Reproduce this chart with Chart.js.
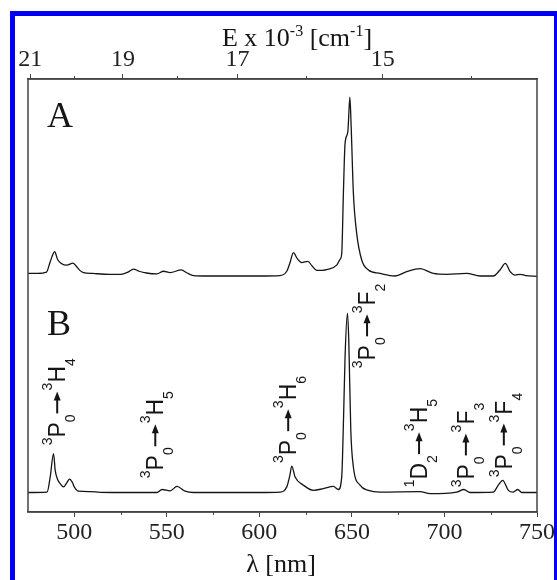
<!DOCTYPE html>
<html>
<head>
<meta charset="utf-8">
<script src="https://cdn.jsdelivr.net/npm/chart.js"></script>
<style>
  html, body { margin: 0; padding: 0; background: #fff; }
  canvas { display: block; }
</style>
</head>
<body>
<canvas id="spectra" width="557" height="580"></canvas>
<script>
// Emission spectra A and B (B drawn below A), wavelength in nm, intensity in arbitrary units
const lambdaA = [475, 480, 485, 487, 489.4, 491, 493, 496, 499.3, 501, 503, 505, 510, 519, 525, 529, 532, 535, 539,
  544.7, 548.2, 551.8, 557.8, 561, 564.4, 571.6, 580, 590, 600, 611, 614.8, 616.5, 618.4, 620.5, 622.9, 626.2, 628.5,
  631, 636.4, 641.8, 643.5, 644.5, 645.4, 646.3, 647.8, 648.9, 649.6, 650.8, 652.6, 655.3, 658.9, 665.2, 673.3, 679.6,
  686.8, 694, 701.2, 712, 719.2, 726.4, 730, 732.9, 735.5, 738.2, 740.9, 744, 750];
const intensityA = [55.1, 55.1, 55.4, 57.8, 60.1, 58.3, 57.4, 57.0, 57.5, 56.8, 55.8, 55.3, 55.1, 54.9, 54.9, 55.4, 56.1, 55.6, 55.2,
  55.0, 55.6, 55.3, 55.9, 55.2, 54.6, 54.5, 54.5, 54.5, 54.5, 54.6, 55.6, 57.5, 59.9, 58.5, 57.6, 57.9, 56.8,
  55.8, 56.0, 57.0, 58.3, 59.7, 73.6, 85.1, 87.8, 95.8, 89.0, 73.6, 64.3, 58.2, 55.9, 55.1, 54.5, 55.5,
  56.2, 55.1, 54.9, 55.1, 54.5, 54.5, 55.9, 57.4, 55.5, 54.7, 54.9, 54.6, 54.4];

const lambdaB = [475, 485.3, 487, 488.8, 489.7, 491, 492.5, 494.2, 496, 497.5, 499, 500, 502.3, 508.6, 514, 530, 544.7,
  547.4, 551.8, 555.5, 559.9, 564.4, 580, 600, 611.2, 614.8, 616.5, 617.5, 619.3, 623.8, 629.2, 634.6, 640, 642.7,
  644.5, 645.5, 646.3, 647.6, 648.3, 649.4, 650.8, 654.4, 658.9, 665.2, 686.8, 692.2, 706.6, 710.5, 713.8, 726.4,
  729.1, 731.5, 734.5, 737.2, 739.6, 741.8, 750];
const intensityB = [4.5, 4.6, 8.1, 13.5, 9.6, 7.5, 6.5, 5.8, 6.8, 7.6, 6.8, 5.8, 4.8, 4.7, 4.55, 4.5, 4.5,
  5.2, 4.9, 5.9, 4.8, 4.5, 4.5, 4.5, 4.6, 5.8, 8.5, 10.6, 8.1, 6.2, 5.0, 5.4, 5.9, 5.2,
  8.1, 22, 35.8, 45.9, 39.7, 18.9, 10.4, 6.2, 5.0, 4.6, 4.7, 4.25, 4.6, 5.2, 4.5, 4.6,
  6.2, 7.3, 5.0, 4.6, 5.2, 4.5, 4.5];

// axis ticks
const lambdaTicks = [475, 500, 525, 550, 575, 600, 625, 650, 675, 700, 725, 750];
const energyTicks = [21, 20, 19, 18, 17, 16, 15, 14]; // E x 10^-3 cm^-1

// transition labels: [sup, letter, sub] -> [sup, letter, sub], anchored at (wavelength, intensity)
const transitions = [
  { from: ['3', 'P', '0'], to: ['3', 'H', '4'], lambda: 495.1, y: 15.4 },
  { from: ['3', 'P', '0'], to: ['3', 'H', '5'], lambda: 548.1, y: 7.8 },
  { from: ['3', 'P', '0'], to: ['3', 'H', '6'], lambda: 619.9, y: 11.3 },
  { from: ['3', 'P', '0'], to: ['3', 'F', '2'], lambda: 662.5, y: 33.2 },
  { from: ['1', 'D', '2'], to: ['3', 'H', '5'], lambda: 690.6, y: 5.7 },
  { from: ['3', 'P', '0'], to: ['3', 'F', '3'], lambda: 715.9, y: 5.7 },
  { from: ['3', 'P', '0'], to: ['3', 'F', '4'], lambda: 736.4, y: 8.0 },
];

const INK = '#151515';
const AXIS = '#444';
const SERIF = '"Liberation Serif", "Times New Roman", serif';
const SANS = '"Liberation Sans", Arial, sans-serif';

function toPoints(xs, ys) {
  return xs.map((x, i) => ({ x: x, y: ys[i] }));
}

function drawTransition(ctx, x, y, t) {
  ctx.save();
  ctx.translate(x, y);
  ctx.rotate(-Math.PI / 2);
  ctx.fillStyle = INK;
  ctx.strokeStyle = INK;
  ctx.textAlign = 'left';
  ctx.textBaseline = 'alphabetic';
  let p = 0;
  const part = (txt, size, dy) => {
    ctx.font = size + 'px ' + SANS;
    ctx.fillText(txt, p, dy);
    p += ctx.measureText(txt).width;
  };
  const term = (tm) => {
    part(tm[0], 14, -13);
    part(tm[1], 23, 0);
    part(tm[2], 14, 10);
  };
  term(t.from);
  // arrow
  p += 1;
  const len = 22, ay = -8;
  ctx.lineWidth = 2;
  ctx.beginPath();
  ctx.moveTo(p, ay);
  ctx.lineTo(p + len - 7, ay);
  ctx.stroke();
  ctx.beginPath();
  ctx.moveTo(p + len, ay);
  ctx.lineTo(p + len - 9, ay - 3.5);
  ctx.lineTo(p + len - 9, ay + 3.5);
  ctx.closePath();
  ctx.fill();
  p += len + 1;
  term(t.to);
  ctx.restore();
}

function drawSupText(ctx, pieces, cx, baseline) {
  // pieces: [text, size, raise]
  let w = 0;
  pieces.forEach(pc => { ctx.font = pc[1] + 'px ' + SERIF; w += ctx.measureText(pc[0]).width; });
  let p = cx - w / 2;
  pieces.forEach(pc => {
    ctx.font = pc[1] + 'px ' + SERIF;
    ctx.fillText(pc[0], p, baseline - pc[2]);
    p += ctx.measureText(pc[0]).width;
  });
}

const decorations = {
  id: 'decorations',
  afterDraw(chart) {
    const { ctx, chartArea: a, scales } = chart;
    const xs = scales.x, ys = scales.y, xt = scales.x2;
    ctx.save();

    // plot frame
    ctx.strokeStyle = AXIS;
    ctx.lineWidth = 1.5;
    ctx.strokeRect(a.left, a.top, a.right - a.left, a.bottom - a.top);

    // minor ticks (shorter)
    ctx.lineWidth = 1;
    lambdaTicks.filter(v => v % 50 !== 0 && v > xs.min).forEach(v => {
      const px = Math.round(xs.getPixelForValue(v)) + 0.5;
      ctx.beginPath(); ctx.moveTo(px, a.bottom); ctx.lineTo(px, a.bottom + 3); ctx.stroke();
    });
    energyTicks.filter(e => e % 2 === 0).forEach(e => {
      const px = Math.round(xt.getPixelForValue(1e4 / e)) + 0.5;
      ctx.beginPath(); ctx.moveTo(px, a.top); ctx.lineTo(px, a.top - 3); ctx.stroke();
    });

    ctx.fillStyle = INK;
    ctx.textAlign = 'left';
    ctx.textBaseline = 'alphabetic';

    // axis titles
    drawSupText(ctx, [['E x 10', 26, 0], ['-3', 16, 10], [' [cm', 26, 0], ['-1', 16, 10], [']', 26, 0]], 297, 46);
    drawSupText(ctx, [['\u03bb [nm]', 26, 0]], 281, 572);

    // panel letters
    ctx.font = '36px ' + SERIF;
    ctx.fillText('A', a.left + 19, 127);
    ctx.fillText('B', a.left + 19, 335);

    // transition labels
    transitions.forEach(t => {
      drawTransition(ctx, xs.getPixelForValue(t.lambda), ys.getPixelForValue(t.y), t);
    });

    // blue outer frame
    ctx.fillStyle = '#0000f5';
    ctx.fillRect(10, 11, 5, 569);
    ctx.fillRect(10, 11, 547, 5);
    ctx.fillRect(554, 11, 3, 569);
    ctx.restore();
  }
};

const lineStyle = {
  borderColor: INK,
  borderWidth: 1.3,
  pointRadius: 0,
  fill: false,
  cubicInterpolationMode: 'monotone',
};

new Chart(document.getElementById('spectra'), {
  type: 'line',
  data: {
    datasets: [
      { label: 'A', data: toPoints(lambdaA, intensityA), ...lineStyle },
      { label: 'B', data: toPoints(lambdaB, intensityB), ...lineStyle },
    ],
  },
  options: {
    responsive: false,
    animation: false,
    layout: { padding: { left: 28, right: 20, top: 0, bottom: 0 } },
    plugins: { legend: { display: false }, tooltip: { enabled: false } },
    scales: {
      x: {
        type: 'linear',
        position: 'bottom',
        min: 475,
        max: 750,
        afterBuildTicks: s => { s.ticks = lambdaTicks.map(v => ({ value: v })); },
        afterFit: s => { s.height = 68; s.paddingLeft = 0; s.paddingRight = 0; },
        ticks: {
          autoSkip: false,
          maxRotation: 0,
          padding: 1,
          color: '#222',
          font: { family: SERIF, size: 24 },
          callback: v => (v % 50 === 0 && v > 475 ? String(v) : ''),
        },
        grid: {
          drawOnChartArea: false,
          tickLength: 5,
          tickWidth: 1,
          tickColor: c => (c.tick && c.tick.value % 50 === 0 ? AXIS : 'rgba(0,0,0,0)'),
        },
        border: { display: true, color: AXIS, width: 1.5 },
      },
      x2: {
        type: 'linear',
        position: 'top',
        min: 475,
        max: 750,
        afterBuildTicks: s => { s.ticks = energyTicks.map(e => ({ value: 1e4 / e })); },
        afterFit: s => { s.height = 79; s.paddingLeft = 0; s.paddingRight = 0; },
        ticks: {
          autoSkip: false,
          maxRotation: 0,
          padding: 0,
          color: '#222',
          font: { family: SERIF, size: 24 },
          callback: v => { const e = Math.round(1e4 / v); return e % 2 ? String(e) : ''; },
        },
        grid: {
          drawOnChartArea: false,
          tickLength: 5,
          tickWidth: 1,
          tickColor: c => (c.tick && Math.round(1e4 / c.tick.value) % 2 ? AXIS : 'rgba(0,0,0,0)'),
        },
        border: { display: true, color: AXIS, width: 1.5 },
      },
      y: { display: false, min: 0, max: 100 },
    },
  },
  plugins: [decorations],
});
</script>
</body>
</html>
